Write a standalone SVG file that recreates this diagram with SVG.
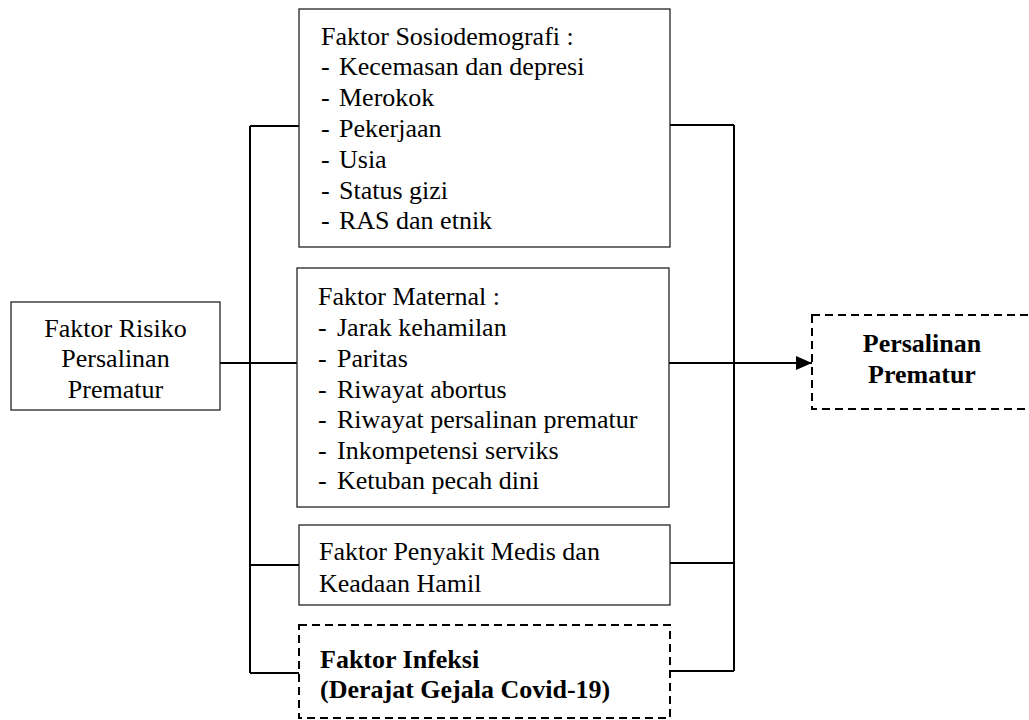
<svg xmlns="http://www.w3.org/2000/svg" width="1029" height="720" viewBox="0 0 1029 720">
<style>
.box{fill:#fff;stroke:#222;stroke-width:1.3}
.dbox{fill:#fff;stroke:#000;stroke-width:2;stroke-dasharray:8 5}
text{font-family:'Liberation Serif','Times New Roman',Tinos,'Nimbus Roman',serif;font-size:26px;fill:#000}
.b{font-weight:bold}
.c{fill:none;stroke:#000;stroke-width:2}
</style>
<defs>
<marker id="arr" viewBox="0 0 16 14" refX="16" refY="7" markerWidth="16" markerHeight="14" markerUnits="userSpaceOnUse" orient="auto">
<path d="M0,0 L16,7 L0,14 Z" fill="#000"/>
</marker>
</defs>
<g id="connectors">
<path class="c" d="M250,126 V673"/>
<path class="c" d="M734,125 V671"/>
<path class="c" d="M250,126 H299"/>
<path class="c" d="M220,363 H297"/>
<path class="c" d="M250,565 H299"/>
<path class="c" d="M250,673 H299"/>
<path class="c" d="M670,125 H734"/>
<path class="c" d="M670,563 H734"/>
<path class="c" d="M670,671 H734"/>
<path class="c" d="M669,363 H812" marker-end="url(#arr)"/>
</g>
<g id="node-risiko">
<rect class="box" x="11" y="302" width="209" height="108"/>
<text x="115.5" y="337" text-anchor="middle">Faktor Risiko</text>
<text x="115.5" y="367" text-anchor="middle">Persalinan</text>
<text x="115.5" y="398" text-anchor="middle">Prematur</text>
</g>
<g id="node-sosio">
<rect class="box" x="299" y="9" width="371" height="238"/>
<text x="321" y="45">Faktor Sosiodemografi :</text>
<text x="321" y="75">-</text><text x="339" y="75">Kecemasan dan depresi</text>
<text x="321" y="106">-</text><text x="339" y="106">Merokok</text>
<text x="321" y="137">-</text><text x="339" y="137">Pekerjaan</text>
<text x="321" y="168">-</text><text x="339" y="168">Usia</text>
<text x="321" y="199">-</text><text x="339" y="199">Status gizi</text>
<text x="321" y="229">-</text><text x="339" y="229">RAS dan etnik</text>
</g>
<g id="node-maternal">
<rect class="box" x="297" y="268" width="372" height="239"/>
<text x="318" y="305">Faktor Maternal :</text>
<text x="318" y="336">-</text><text x="337" y="336">Jarak kehamilan</text>
<text x="318" y="367">-</text><text x="337" y="367">Paritas</text>
<text x="318" y="398">-</text><text x="337" y="398">Riwayat abortus</text>
<text x="318" y="428">-</text><text x="337" y="428">Riwayat persalinan prematur</text>
<text x="318" y="459">-</text><text x="337" y="459">Inkompetensi serviks</text>
<text x="318" y="489">-</text><text x="337" y="489">Ketuban pecah dini</text>
</g>
<g id="node-penyakit">
<rect class="box" x="299" y="525" width="371" height="80"/>
<text x="319" y="560">Faktor Penyakit Medis dan</text>
<text x="319" y="592">Keadaan Hamil</text>
</g>
<g id="node-infeksi">
<rect class="dbox" x="299" y="625" width="371" height="93"/>
<text class="b" x="320" y="668">Faktor Infeksi</text>
<text class="b" x="320" y="698">(Derajat Gejala Covid-19)</text>
</g>
<g id="node-persalinan">
<rect class="dbox" x="812" y="315" width="222" height="94"/>
<text class="b" x="922" y="352" text-anchor="middle">Persalinan</text>
<text class="b" x="922" y="383" text-anchor="middle">Prematur</text>
</g>
</svg>
